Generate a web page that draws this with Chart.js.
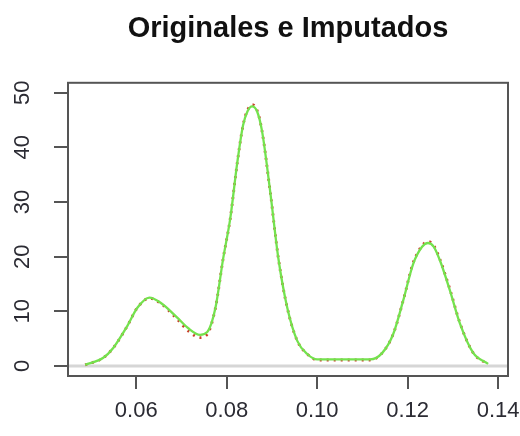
<!DOCTYPE html>
<html>
<head>
<meta charset="utf-8">
<script src="https://cdn.jsdelivr.net/npm/chart.js@4"></script>
<style>
  html, body { margin: 0; padding: 0; background: #fff; }
  #wrap { width: 520px; height: 436px; }
</style>
</head>
<body>
<div id="wrap"><canvas id="density-chart" width="520" height="436"></canvas></div>
<script>
// density curves (x, density)
const origX = [0.0487, 0.0527, 0.0549, 0.058, 0.0602, 0.0629, 0.0653, 0.069, 0.0715, 0.0741, 0.0757, 0.0775, 0.0792, 0.0808, 0.0823, 0.0836, 0.0846, 0.0856, 0.0867, 0.0878, 0.0896, 0.0914, 0.0934, 0.0956, 0.0978, 0.1, 0.1117, 0.1144, 0.1168, 0.119, 0.1212, 0.1232, 0.1245, 0.1258, 0.1272, 0.1294, 0.1316, 0.1345, 0.1378];
const origY = [0.2, 1.5, 3.3, 7.3, 10.6, 12.4, 11.5, 8.6, 6.4, 5.2, 5.8, 10.6, 19.6, 27.1, 37, 44.0, 46.8, 47.8, 46.8, 43, 32, 19.8, 10.6, 4.6, 2.2, 1.1, 1.1, 2.4, 5.8, 11.9, 18.8, 22.0, 22.8, 22.0, 19.4, 13.9, 7.8, 2.4, 0.3];
const impX = [0.0487, 0.0527, 0.0549, 0.058, 0.0602, 0.0629, 0.0653, 0.069, 0.0715, 0.0741, 0.0757, 0.0775, 0.0792, 0.0808, 0.0823, 0.0836, 0.0846, 0.0856, 0.0867, 0.0878, 0.0896, 0.0914, 0.0934, 0.0956, 0.0978, 0.1, 0.1117, 0.1144, 0.1168, 0.119, 0.1212, 0.1232, 0.1245, 0.1258, 0.1272, 0.1294, 0.1316, 0.1345, 0.1378];
const impY = [0.2, 1.5, 3.3, 7.3, 10.6, 12.5, 11.6, 8.9, 6.9, 5.7, 6.2, 10.6, 19.6, 27.1, 37, 44.0, 46.6, 47.5, 46.6, 43, 32, 19.8, 10.6, 4.6, 2.2, 1.2, 1.2, 2.4, 5.8, 11.9, 18.6, 21.8, 22.5, 21.8, 19.2, 13.7, 7.7, 2.4, 0.4];
const xTicks = [0.06, 0.08, 0.10, 0.12, 0.14];
const yTicks = [0, 10, 20, 30, 40, 50];

const toPoints = (xs, ys) => xs.map((x, i) => ({ x: x, y: ys[i] }));

const axisColor = '#555555';
const fontFamily = 'Liberation Sans, Arial, sans-serif';
const labelFont = { family: fontFamily, size: 22 };

// box round the plot, grey zero line, rotated y labels (like R's plot)
const rStyle = {
  id: 'rStyle',
  beforeDatasetsDraw(chart) {
    const { ctx, chartArea, scales } = chart;
    const y0 = scales.y.getPixelForValue(0);
    ctx.save();
    ctx.strokeStyle = '#d6d6d6';
    ctx.lineWidth = 3;
    ctx.beginPath();
    ctx.moveTo(chartArea.left, y0);
    ctx.lineTo(chartArea.right, y0);
    ctx.stroke();
    ctx.restore();
  },
  afterDraw(chart) {
    const { ctx, chartArea, scales } = chart;
    ctx.save();
    ctx.strokeStyle = axisColor;
    ctx.lineWidth = 2;
    ctx.strokeRect(chartArea.left, chartArea.top, chartArea.right - chartArea.left, chartArea.bottom - chartArea.top);
    ctx.fillStyle = '#2b2b33';
    ctx.font = '22px ' + fontFamily;
    ctx.textAlign = 'center';
    ctx.textBaseline = 'middle';
    yTicks.forEach((t) => {
      ctx.save();
      ctx.translate(chartArea.left - 45, scales.y.getPixelForValue(t));
      ctx.rotate(-Math.PI / 2);
      ctx.fillText(String(t), 0, 0);
      ctx.restore();
    });
    ctx.restore();
  }
};

document.addEventListener('DOMContentLoaded', () => {
  const ctx = document.getElementById('density-chart').getContext('2d');
  new Chart(ctx, {
    type: 'line',
    data: {
      datasets: [
        {
          label: 'Imputados',
          data: toPoints(impX, impY),
          borderColor: '#74e24e',
          borderWidth: 2.3,
          pointRadius: 0,
          cubicInterpolationMode: 'monotone'
        },
        {
          label: 'Originales',
          data: toPoints(origX, origY),
          borderColor: '#c8402a',
          borderWidth: 2.8,
          borderDash: [2, 5],
          pointRadius: 0,
          cubicInterpolationMode: 'monotone'
        }
      ]
    },
    options: {
      responsive: false,
      animation: false,
      layout: { padding: { left: 0, right: 0, top: 0, bottom: 0 } },
      scales: {
        x: {
          type: 'linear',
          min: 0.0449,
          max: 0.1422,
          afterBuildTicks: (axis) => { axis.ticks = xTicks.map((v) => ({ value: v })) },
          afterFit: (axis) => { axis.height = 60; axis.paddingRight = 12 },
          ticks: {
            color: '#2b2b33',
            font: labelFont,
            padding: 9,
            maxRotation: 0,
            callback: (v) => v.toFixed(2)
          },
          grid: { drawOnChartArea: false, color: axisColor, lineWidth: 2, tickLength: 13 },
          border: { display: false }
        },
        y: {
          type: 'linear',
          min: -1.83,
          max: 51.8,
          afterBuildTicks: (axis) => { axis.ticks = yTicks.map((v) => ({ value: v })) },
          afterFit: (axis) => { axis.width = 68 },
          ticks: { display: false },
          grid: { drawOnChartArea: false, color: axisColor, lineWidth: 2, tickLength: 14 },
          border: { display: false }
        }
      },
      plugins: {
        legend: { display: false },
        tooltip: { enabled: false },
        title: {
          display: true,
          fullSize: false,
          text: 'Originales e Imputados',
          color: '#111111',
          font: { family: fontFamily, size: 29, weight: 'bold' },
          padding: { top: 12, bottom: 36 }
        }
      }
    },
    plugins: [rStyle]
  })
})
</script>
</body>
</html>
